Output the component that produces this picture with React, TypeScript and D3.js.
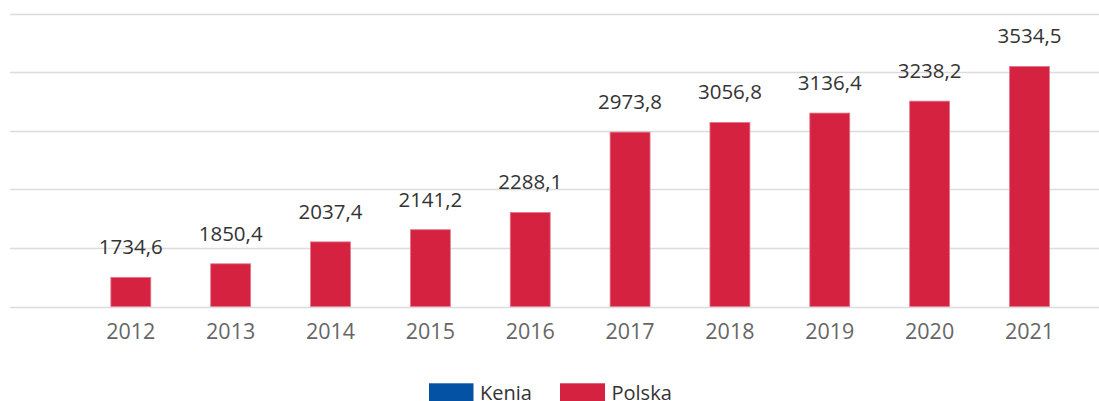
import React, { useEffect } from "react";
import * as d3 from "d3";

const years = ["2012", "2013", "2014", "2015", "2016", "2017", "2018", "2019", "2020", "2021"];
const polska = [1734.6, 1850.4, 2037.4, 2141.2, 2288.1, 2973.8, 3056.8, 3136.4, 3238.2, 3534.5];
const gridTicks = [1500, 2000, 2500, 3000, 3500, 4000];
const legendItems = ["Kenia", "Polska"];
const legendColors = ["#0452a4", "#d52240"];

const W = 1099;
const H = 401;

export default function App() {
  useEffect(() => {
    document.body.style.margin = "0";
  }, []);

  const x = d3.scaleBand<string>().domain(years).range([80.9, 1079.4]).paddingInner(0.6).paddingOuter(0.3);
  const y = d3.scaleLinear().domain([1486, 3986]).range([306.5, 13.5]);
  const fmt = (v: number) => v.toFixed(1).replace(".", ",");
  const font = "'Open Sans', 'Noto Sans', sans-serif";

  return (
    <svg width={W} height={H} style={{ display: "block" }}>
      <rect width={W} height={H} fill="#ffffff" />
      {gridTicks.map((t) => (
        <line key={t} x1={10} x2={W} y1={Math.round(y(t - 14)) + 0.5} y2={Math.round(y(t - 14)) + 0.5} stroke="#dcdcdc" strokeWidth={1.5} />
      ))}
      {years.map((yr, i) => (
        <rect
          key={yr}
          x={x(yr)!}
          y={y(polska[i])}
          width={x.bandwidth()}
          height={y(1486) - y(polska[i])}
          fill="#d52240"
          stroke="#e07a8c"
          strokeWidth={0.8}
        />
      ))}
      {years.map((yr, i) => (
        <text
          key={"v" + yr}
          x={x(yr)! + x.bandwidth() / 2}
          y={y(polska[i]) - 23}
          textAnchor="middle"
          fontFamily={font}
          fontSize={20.5}
          fill="#333333"
        >
          {fmt(polska[i])}
        </text>
      ))}
      {years.map((yr) => (
        <text
          key={"a" + yr}
          x={x(yr)! + x.bandwidth() / 2}
          y={338.5}
          textAnchor="middle"
          fontFamily={font}
          fontSize={21.5}
          fill="#666666"
        >
          {yr}
        </text>
      ))}
      <g>
        <rect x={429} y={383.3} width={44.5} height={22} fill={legendColors[0]} />
        <text x={480} y={400} fontFamily={font} fontSize={20} fill="#333333">{legendItems[0]}</text>
        <rect x={560} y={383.3} width={45} height={22} fill={legendColors[1]} />
        <text x={611.5} y={400} fontFamily={font} fontSize={20} fill="#333333">{legendItems[1]}</text>
      </g>
    </svg>
  );
}
